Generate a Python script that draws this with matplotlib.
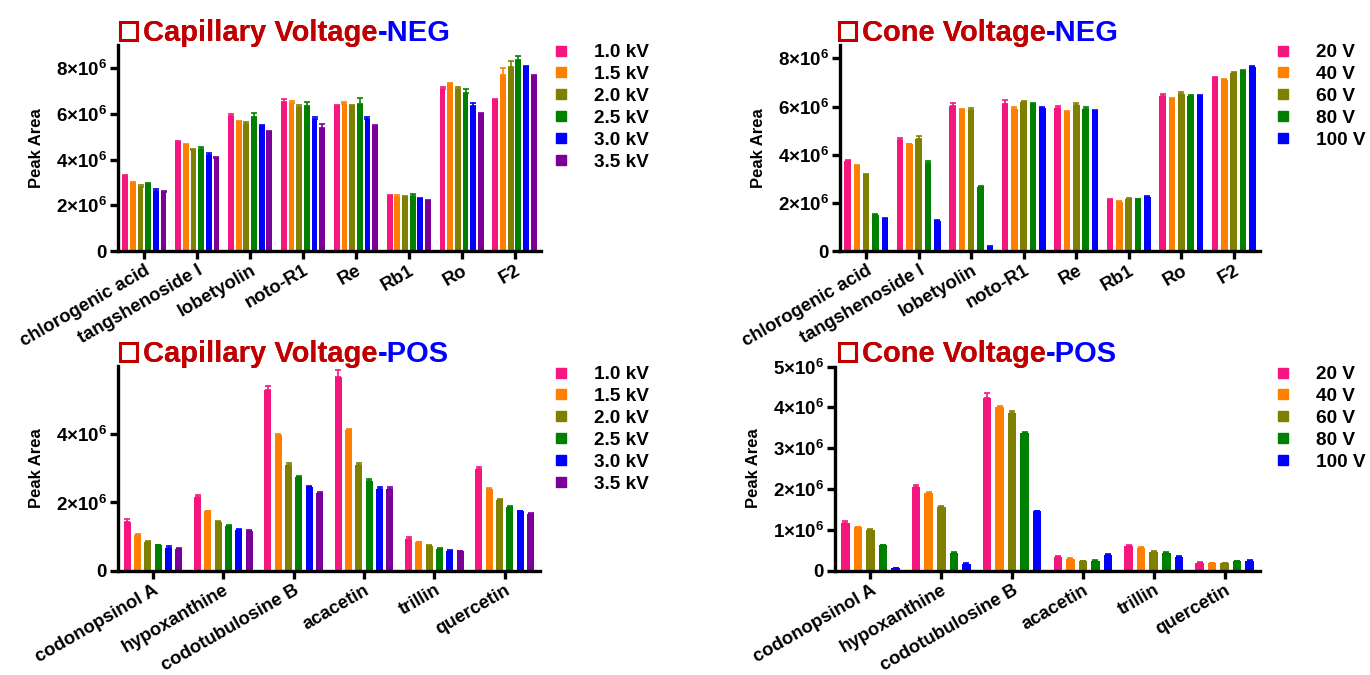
import numpy as np
import matplotlib
matplotlib.use('Agg')
import matplotlib.pyplot as plt
from matplotlib.ticker import FuncFormatter, FixedLocator
from matplotlib.lines import Line2D
from matplotlib.patches import Rectangle

plt.rcParams['font.family'] = ['Liberation Sans', 'DejaVu Sans']
plt.rcParams['font.weight'] = 'bold'
plt.rcParams['mathtext.fontset'] = 'custom'
plt.rcParams['mathtext.rm'] = 'Liberation Sans:bold'
plt.rcParams['mathtext.bf'] = 'Liberation Sans:bold'
plt.rcParams['mathtext.it'] = 'Liberation Sans:bold'

# ---------------- data (values in units of 1e6) ----------------
neg_compounds = ['chlorogenic acid', 'tangshenoside I', 'lobetyolin', 'noto-R1',
                 'Re', 'Rb1', 'Ro', 'F2']
pos_compounds = ['codonopsinol A', 'hypoxanthine', 'codotubulosine B',
                 'acacetin', 'trillin', 'quercetin']

cap_labels = ['1.0 kV', '1.5 kV', '2.0 kV', '2.5 kV', '3.0 kV', '3.5 kV']
cone_labels = ['20 V', '40 V', '60 V', '80 V', '100 V']

# capillary voltage, NEG: one row per voltage
cap_neg = [
    [3.26, 4.75, 5.89, 6.52, 6.33, 2.40, 7.10, 6.60],
    [2.96, 4.62, 5.63, 6.48, 6.44, 2.38, 7.29, 7.68],
    [2.82, 4.43, 5.54, 6.30, 6.33, 2.36, 7.07, 8.05],
    [2.92, 4.47, 5.85, 6.36, 6.44, 2.42, 6.92, 8.34],
    [2.64, 4.21, 5.45, 5.78, 5.78, 2.26, 6.36, 8.05],
    [2.57, 4.08, 5.19, 5.38, 5.45, 2.20, 5.97, 7.67],
]
cap_neg_err = [
    [0.08, 0.05, 0.10, 0.12, 0.06, 0.03, 0.05, 0.03],
    [0.04, 0.06, 0.06, 0.08, 0.07, 0.05, 0.06, 0.33],
    [0.05, 0.05, 0.08, 0.10, 0.04, 0.04, 0.08, 0.27],
    [0.06, 0.08, 0.18, 0.14, 0.25, 0.08, 0.15, 0.20],
    [0.06, 0.06, 0.08, 0.08, 0.08, 0.04, 0.12, 0.05],
    [0.06, 0.04, 0.04, 0.18, 0.05, 0.05, 0.08, 0.04],
]

# cone voltage, NEG
cone_neg = [
    [3.73, 4.63, 6.01, 6.09, 5.94, 2.13, 6.43, 7.20],
    [3.53, 4.43, 5.87, 5.91, 5.78, 2.05, 6.33, 7.09],
    [3.14, 4.65, 5.87, 6.19, 6.08, 2.17, 6.54, 7.40],
    [1.51, 3.67, 2.66, 6.09, 5.91, 2.15, 6.43, 7.47],
    [1.34, 1.25, 0.19, 5.94, 5.82, 2.24, 6.43, 7.65],
]
cone_neg_err = [
    [0.05, 0.07, 0.12, 0.18, 0.10, 0.03, 0.07, 0.03],
    [0.04, 0.03, 0.04, 0.06, 0.03, 0.03, 0.03, 0.04],
    [0.08, 0.12, 0.06, 0.05, 0.05, 0.04, 0.07, 0.05],
    [0.04, 0.05, 0.05, 0.04, 0.06, 0.03, 0.04, 0.06],
    [0.04, 0.04, 0.03, 0.04, 0.04, 0.03, 0.04, 0.05],
]

# capillary voltage, POS
cap_pos = [
    [1.43, 2.17, 5.31, 5.67, 0.92, 2.97],
    [1.05, 1.74, 3.97, 4.12, 0.83, 2.39],
    [0.84, 1.44, 3.11, 3.10, 0.71, 2.06],
    [0.74, 1.30, 2.74, 2.64, 0.64, 1.86],
    [0.68, 1.20, 2.45, 2.40, 0.59, 1.74],
    [0.64, 1.17, 2.27, 2.40, 0.57, 1.67],
]
cap_pos_err = [
    [0.08, 0.06, 0.10, 0.20, 0.06, 0.06],
    [0.02, 0.02, 0.04, 0.03, 0.02, 0.02],
    [0.03, 0.03, 0.05, 0.05, 0.03, 0.04],
    [0.02, 0.03, 0.03, 0.04, 0.04, 0.03],
    [0.03, 0.02, 0.03, 0.04, 0.02, 0.02],
    [0.02, 0.02, 0.03, 0.06, 0.02, 0.03],
]

# cone voltage, POS
cone_pos = [
    [1.18, 2.06, 4.24, 0.33, 0.61, 0.20],
    [1.06, 1.90, 4.01, 0.28, 0.55, 0.19],
    [1.00, 1.57, 3.86, 0.24, 0.47, 0.19],
    [0.62, 0.44, 3.37, 0.25, 0.43, 0.23],
    [0.06, 0.16, 1.45, 0.38, 0.33, 0.25],
]
cone_pos_err = [
    [0.03, 0.05, 0.10, 0.02, 0.03, 0.02],
    [0.02, 0.02, 0.03, 0.02, 0.03, 0.01],
    [0.03, 0.02, 0.04, 0.01, 0.02, 0.01],
    [0.02, 0.02, 0.03, 0.01, 0.02, 0.01],
    [0.01, 0.02, 0.02, 0.02, 0.02, 0.02],
]

cap_colors = ['#f5177f', '#ff7f00', '#808000', '#008000', '#0000ff', '#7b0099']
cone_colors = cap_colors[:5]

title_red = '#c00000'
title_blue = '#0000ff'

W, H = 1370, 675


def sci(v, pos):
    if v == 0:
        return '0'
    return r'$%d{\times}10^{6}$' % round(v / 1e6)


def bar_panel(ax, names, vals, errs, colors, slot, width, ymax, yticks):
    x = np.arange(len(names))
    n = len(vals)
    for i in range(n):
        off = (i - (n - 1) / 2) * slot
        v = np.array(vals[i]) * 1e6
        e = np.array(errs[i]) * 1e6
        ax.bar(x + off, v, width, color=colors[i], zorder=2)
        ax.errorbar(x + off, v, yerr=[np.zeros_like(e), e], fmt='none',
                    ecolor=colors[i], elinewidth=1.2, capsize=2, capthick=1.2,
                    zorder=2)
    ax.set_xlim(-0.5, len(names) - 0.5)
    ax.set_ylim(0, ymax)
    ax.yaxis.set_major_locator(FixedLocator(yticks))
    ax.yaxis.set_major_formatter(FuncFormatter(sci))
    ax.set_xticks(x)
    ax.set_xticklabels(names, rotation=30, ha='right', rotation_mode='anchor',
                       fontsize=13.3, fontweight='bold')
    for s in ['top', 'right']:
        ax.spines[s].set_visible(False)
    for s in ['left', 'bottom']:
        ax.spines[s].set_linewidth(2.4)
    ax.tick_params(axis='both', width=2.4, length=6, pad=2)
    ax.tick_params(axis='y', labelsize=13.5)
    ax.set_ylabel('Peak Area', fontsize=12, fontweight='bold', labelpad=8)


def title(fig, box_x, text_x, baseline, left, right):
    # open red square drawn before the title (pixel coordinates)
    fig.patches.append(Rectangle((box_x / W, 1 - (baseline - 1) / H),
                                 17 / W, 18 / H, transform=fig.transFigure,
                                 fill=False, edgecolor=title_red,
                                 linewidth=2.2, figure=fig))
    t1 = fig.text(text_x / W, 1 - baseline / H, left, fontsize=21,
                  fontweight='bold', color=title_red, ha='left', va='baseline')
    fig.texts.append(t1)
    a = plt.annotate(right, xy=(1, 0), xycoords=t1, fontsize=21,
                     fontweight='bold', color=title_blue, ha='left',
                     va='bottom', annotation_clip=False)


def legend(fig, labels, colors, x, y):
    handles = [Line2D([], [], marker='s', linestyle='none', markersize=7.5,
                      markerfacecolor=c, markeredgecolor=c) for c in colors]
    fig.legend(handles, labels, loc='upper left', bbox_to_anchor=(x, y),
               frameon=False, borderpad=0, borderaxespad=0, handlelength=0.6,
               handletextpad=1.45, labelspacing=0.24,
               prop={'size': 13.7, 'weight': 'bold'})


fig = plt.figure(figsize=(13.7, 6.75), dpi=100)

ax1 = fig.add_axes([0.0861, 0.628, 0.3088, 0.3052])
bar_panel(ax1, neg_compounds, cap_neg, cap_neg_err, cap_colors, 0.145, 0.11,
          9e6, [0, 2e6, 4e6, 6e6, 8e6])
legend(fig, cap_labels, cap_colors, 0.405, 0.935)

ax2 = fig.add_axes([0.6131, 0.628, 0.3066, 0.3052])
bar_panel(ax2, neg_compounds, cone_neg, cone_neg_err, cone_colors, 0.177, 0.125,
          8.55e6, [0, 2e6, 4e6, 6e6, 8e6])
legend(fig, cone_labels, cone_colors, 0.932, 0.935)

ax3 = fig.add_axes([0.0861, 0.1545, 0.308, 0.3033])
bar_panel(ax3, pos_compounds, cap_pos, cap_pos_err, cap_colors, 0.147, 0.1,
          6e6, [0, 2e6, 4e6])
legend(fig, cap_labels, cap_colors, 0.405, 0.458)

ax4 = fig.add_axes([0.6095, 0.1545, 0.3102, 0.3025])
bar_panel(ax4, pos_compounds, cone_pos, cone_pos_err, cone_colors, 0.177, 0.12,
          5e6, [0, 1e6, 2e6, 3e6, 4e6, 5e6])
legend(fig, cone_labels, cone_colors, 0.932, 0.458)

# titles: box left, text left, baseline (pixels from top)
plt.sca(ax1)
title(fig, 120, 143, 41, 'Capillary Voltage', '-NEG')
plt.sca(ax2)
title(fig, 839, 862, 41, 'Cone Voltage', '-NEG')
plt.sca(ax3)
title(fig, 120, 143, 362, 'Capillary Voltage', '-POS')
plt.sca(ax4)
title(fig, 839, 862, 362, 'Cone Voltage', '-POS')

fig.savefig('out.png', dpi=100)
